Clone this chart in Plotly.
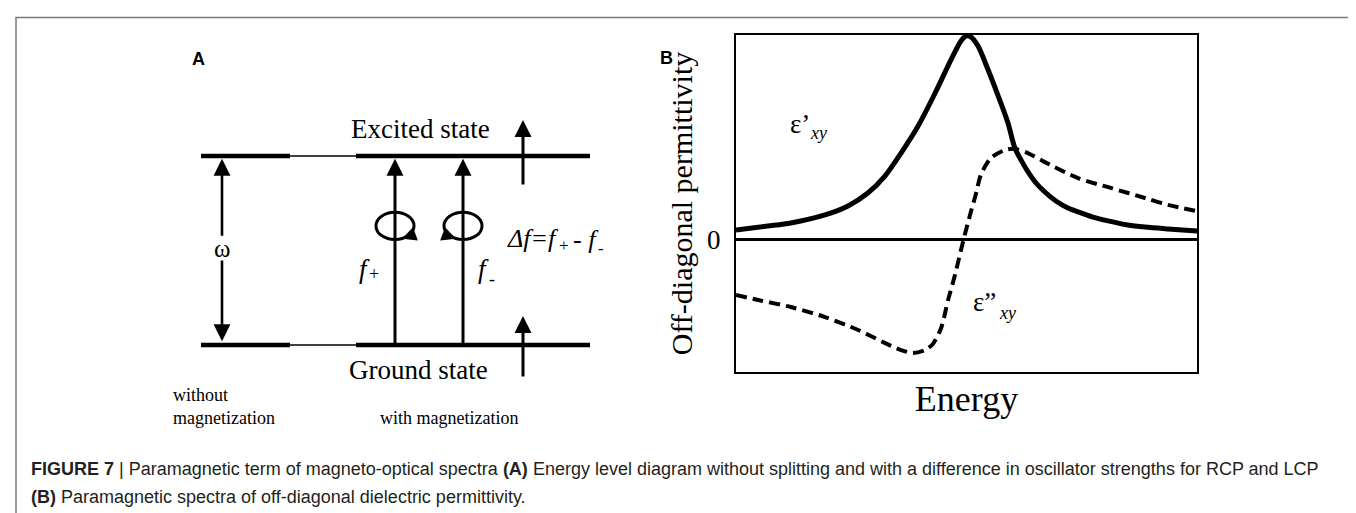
import plotly.graph_objects as go

# ---------------- Panel B data (arbitrary units) ----------------
energy_re = [0, 6.9, 11.9, 19.3, 24.3, 28.6, 32.3, 35.8, 39.5, 43.2, 46.6, 48.8, 49.9,
             51.0, 52.5, 54.7, 56.8, 59.0, 60.5, 62.7, 64.9, 67.0, 69.4, 72.0, 74.2,
             77.4, 80.7, 85.0, 88.7, 93.7, 100]
eps_re = [0.049, 0.068, 0.083, 0.122, 0.166, 0.229, 0.312, 0.424, 0.556, 0.717, 0.878,
          0.971, 0.995, 0.990, 0.946, 0.829, 0.707, 0.571, 0.449, 0.356, 0.283, 0.234,
          0.190, 0.156, 0.137, 0.112, 0.093, 0.073, 0.063, 0.054, 0.044]

energy_im = [0, 4.8, 11.9, 19.3, 26.5, 31.9, 35.8, 38.4, 41.0, 42.7, 44.5, 46.0, 47.5,
             48.8, 49.9, 51.0, 52.1, 53.1, 55.3, 58.4, 60.5, 63.3, 67.0, 74.2, 81.3,
             88.7, 93.7, 100]
eps_im = [-0.268, -0.293, -0.327, -0.376, -0.439, -0.498, -0.537, -0.551, -0.537, -0.507,
          -0.429, -0.293, -0.171, -0.049, 0.049, 0.141, 0.229, 0.317, 0.400, 0.439,
          0.444, 0.424, 0.380, 0.302, 0.254, 0.205, 0.171, 0.141]

y_ticks = [0]
y_ticktext = ["0"]

# ---------------- Panel A diagram data (diagram units) ----------------
level_names = ["Ground state", "Excited state"]
level_y = [0.0, 1.0]
seg_without = [5.3, 14.2]     # level segment without magnetization
seg_link = [14.2, 20.8]       # thin connector
seg_with = [20.8, 44.2]       # level segment with magnetization
omega_x = 7.4
f_plus_x = 24.7
f_minus_x = 31.5
spin_x = 37.5
loop_y = 0.63

SERIF = "Liberation Serif, Times New Roman, serif"
SANS = "Liberation Sans, Arial, sans-serif"
BLACK = "#000000"

fig = go.Figure()

# ---- Panel B curves ----
fig.add_trace(go.Scatter(x=energy_re, y=eps_re, mode="lines",
                         line=dict(color=BLACK, width=5, shape="spline", smoothing=0.8),
                         showlegend=False, hoverinfo="skip"))
fig.add_trace(go.Scatter(x=energy_im, y=eps_im, mode="lines",
                         line=dict(color=BLACK, width=4, dash="11px,6px", shape="spline", smoothing=0.8),
                         showlegend=False, hoverinfo="skip"))

# ---- Panel A energy levels ----
thick_x, thick_y, thin_x, thin_y = [], [], [], []
for ly in level_y:
    thick_x += [seg_without[0], seg_without[1], None, seg_with[0], seg_with[1], None]
    thick_y += [ly, ly, None, ly, ly, None]
    thin_x += [seg_link[0], seg_link[1], None]
    thin_y += [ly, ly, None]
fig.add_trace(go.Scatter(x=thick_x, y=thick_y, xaxis="x2", yaxis="y2", mode="lines",
                         line=dict(color=BLACK, width=4.5), showlegend=False, hoverinfo="skip"))
fig.add_trace(go.Scatter(x=thin_x, y=thin_y, xaxis="x2", yaxis="y2", mode="lines",
                         line=dict(color=BLACK, width=1.3), showlegend=False, hoverinfo="skip"))


def arrow(x0, y0, x1, y1, width=3, size=1.13):
    """Arrow from (x0, y0) to the tip (x1, y1) in diagram units."""
    fig.add_annotation(x=x1, y=y1, ax=x0, ay=y0, xref="x2", yref="y2", axref="x2", ayref="y2",
                       showarrow=True, arrowhead=2, arrowsize=size, arrowwidth=width,
                       arrowcolor=BLACK, text="", standoff=0)


top_tip = level_y[1] - 0.015
# omega double arrow (gap around the ω label)
arrow(omega_x, 0.57, omega_x, top_tip, width=2.6, size=1.3)
arrow(omega_x, 0.455, omega_x, level_y[0] + 0.02, width=2.6, size=1.3)
# transition arrows
arrow(f_plus_x, level_y[0], f_plus_x, top_tip)
arrow(f_minus_x, level_y[0], f_minus_x, top_tip)
# spin arrows
arrow(spin_x, 0.841, spin_x, 1.19)
arrow(spin_x, -0.175, spin_x, 0.153)

# circular polarisation loops
for cx in [f_plus_x, f_minus_x]:
    fig.add_shape(type="circle", xref="x2", yref="y2", x0=cx - 1.9, x1=cx + 1.9,
                  y0=loop_y - 0.072, y1=loop_y + 0.072, line=dict(color=BLACK, width=3))
# loop arrowheads: clockwise (f+) and anticlockwise (f-)
fig.add_annotation(x=f_plus_x + 0.7, y=loop_y - 0.068, xref="x2", yref="y2", ax=11, ay=-4,
                   showarrow=True, arrowhead=2, arrowsize=0.95, arrowwidth=3, arrowcolor=BLACK,
                   text="", standoff=0)
fig.add_annotation(x=f_minus_x - 0.7, y=loop_y - 0.068, xref="x2", yref="y2", ax=-11, ay=-4,
                   showarrow=True, arrowhead=2, arrowsize=0.95, arrowwidth=3, arrowcolor=BLACK,
                   text="", standoff=0)


def label(text, x, y, size, xanchor="center", italic=False, xref="x2", yref="y2"):
    fig.add_annotation(x=x, y=y, xref=xref, yref=yref, text=text, showarrow=False,
                       xanchor=xanchor, yanchor="middle",
                       font=dict(family=SERIF, size=size, color=BLACK,
                                 style="italic" if italic else "normal"))


label("ω", omega_x, 0.513, 25)
label(level_names[1], 27.2, 1.143, 27)
label(level_names[0], 27.0, -0.132, 27)
# oscillator strengths f+ and f-
label("f", 21.6, 0.402, 27, italic=True)
label("+", 22.55, 0.378, 18)
label("f", 33.5, 0.400, 27, italic=True)
label("-", 34.35, 0.350, 18)
# Δf = f+ - f-
label("Δf=f", 38.5, 0.561, 26, italic=True)
label("+", 41.55, 0.527, 17)
label("- f", 43.8, 0.556, 26, italic=True)
label("-", 45.3, 0.510, 17)
label("without", 2.3, -0.265, 18, xanchor="left")
label("magnetization", 2.3, -0.386, 18, xanchor="left")
label("with magnetization", 23.0, -0.386, 18, xanchor="left")

# curve labels in panel B
label("ε’", 13.9, 0.566, 27, xref="x", yref="y")
label("xy", 18.0, 0.520, 18, italic=True, xref="x", yref="y")
label("ε”", 54.0, -0.302, 27, xref="x", yref="y")
label("xy", 58.9, -0.356, 18, italic=True, xref="x", yref="y")

# panel letters
fig.add_annotation(x=182 / 1356, y=1 - 39 / 513, xref="paper", yref="paper", text="<b>A</b>",
                   showarrow=False, font=dict(family=SANS, size=18, color=BLACK))
fig.add_annotation(x=658 / 1356, y=1 - 38 / 513, xref="paper", yref="paper", text="<b>B</b>",
                   showarrow=False, font=dict(family=SANS, size=18, color=BLACK))

# caption
cap1 = ("<b>FIGURE 7</b> | Paramagnetic term of magneto-optical spectra <b>(A)</b> Energy level diagram "
        "without splitting and with a difference in oscillator strengths for RCP and LCP")
cap2 = "<b>(B)</b> Paramagnetic spectra of off-diagonal dielectric permittivity."
for txt, yy in [(cap1, 461), (cap2, 489)]:
    fig.add_annotation(x=21 / 1356, y=1 - yy / 513, xref="paper", yref="paper", text=txt,
                       showarrow=False, xanchor="left", yanchor="middle",
                       font=dict(family=SANS, size=18, color="#231f20"))

# outer frame (left, top, right)
fig.add_shape(type="path", xref="paper", yref="paper",
              path="M 0.0059,0 L 0.0059,0.9815 L 0.9978,0.9815 L 0.9978,0",
              line=dict(color="#7a7a7a", width=1.5))

fig.update_layout(
    width=1356, height=513, margin=dict(l=0, r=0, t=0, b=0),
    paper_bgcolor="white", plot_bgcolor="white", showlegend=False,
    xaxis=dict(domain=[728 / 1356, 1189 / 1356], range=[0, 100], showline=True, mirror=True,
               linecolor=BLACK, linewidth=2, showgrid=False, zeroline=False, showticklabels=False,
               ticks="", title=dict(text="Energy", font=dict(family=SERIF, size=36, color=BLACK), standoff=13)),
    yaxis=dict(domain=[(513 - 364) / 513, (513 - 27) / 513], range=[-0.644, 1.0], showline=True,
               mirror=True, linecolor=BLACK, linewidth=2, showgrid=False, zeroline=True,
               zerolinecolor=BLACK, zerolinewidth=2.5, tickvals=y_ticks, ticktext=y_ticktext,
               ticks="", ticklabelstandoff=8, tickfont=dict(family=SERIF, size=27, color=BLACK),
               title=dict(text="Off-diagonal permittivity", font=dict(family=SERIF, size=30, color=BLACK),
                          standoff=6)),
    xaxis2=dict(domain=[140 / 1356, 600 / 1356], range=[0, 46], visible=False, fixedrange=True),
    yaxis2=dict(domain=[(513 - 420) / 513, (513 - 20) / 513], range=[-0.4392, 1.6772],
                visible=False, fixedrange=True),
)

fig.write_html("out.html")
